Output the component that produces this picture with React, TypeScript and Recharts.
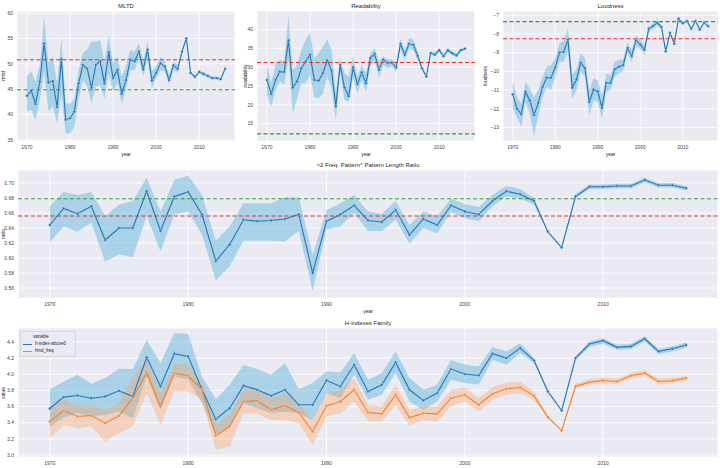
import React from 'react';
import { ComposedChart, Line, Area, XAxis, YAxis, CartesianGrid, ReferenceLine } from 'recharts';

const years = [
  1970, 1971, 1972, 1973, 1974, 1975, 1976, 1977, 1978, 1979,
  1980, 1981, 1982, 1983, 1984, 1985, 1986, 1987, 1988, 1989,
  1990, 1991, 1992, 1993, 1994, 1995, 1996, 1997, 1998, 1999,
  2000, 2001, 2002, 2003, 2004, 2005, 2006, 2007, 2008, 2009,
  2010, 2011, 2012, 2013, 2014, 2015, 2016,
];
const yearTicks = [1970, 1980, 1990, 2000, 2010];

// MLTD
const mltd = [
  43.7, 44.7, 42.1, 46.5, 54.0, 46.3, 46.6, 41.5, 50.9, 39.0,
  39.3, 40.6, 46.1, 49.8, 49.0, 45.3, 49.8, 50.5, 46.1, 52.3,
  47.2, 48.8, 44.1, 46.8, 50.8, 50.5, 52.4, 48.9, 52.8, 46.7,
  48.2, 50.1, 49.5, 46.8, 49.7, 49.0, 52.4, 55.0, 48.2, 47.4,
  48.4, 48.0, 47.6, 47.2, 47.2, 47.0, 49.0,
];
const mltdHi = [
  47.5, 48.5, 46.5, 49.8, 59.3, 50.1, 51.4, 46.2, 55.1, 42.2,
  42.2, 42.9, 48.8, 52.1, 52.8, 54.4, 54.4, 54.7, 50.1, 55.7,
  50.1, 51.4, 47.5, 49.5, 52.8, 52.4, 54.1, 50.5, 54.4, 48.5,
  49.5, 51.4, 50.5, 47.8, 50.5, 49.8, 52.8, 55.3, 48.5, 47.7,
  48.7, 48.3, 47.9, 47.5, 47.5, 47.3, 49.4,
];
const mltdLo = [
  40.6, 40.9, 38.9, 42.9, 48.5, 40.6, 41.6, 38.3, 44.0, 36.3,
  36.3, 37.6, 42.9, 46.8, 45.5, 42.2, 45.5, 45.9, 43.2, 48.2,
  44.5, 46.2, 42.2, 44.9, 48.8, 48.8, 50.8, 47.5, 51.1, 45.2,
  47.2, 48.8, 48.5, 45.9, 48.8, 48.2, 52.1, 54.7, 47.9, 47.1,
  48.1, 47.7, 47.3, 46.9, 46.9, 46.7, 48.6,
];

// Readability
const readability = [
  26.6, 22.9, 26.6, 28.8, 28.7, 37.1, 24.6, 26.2, 29.7, 31.5,
  33.3, 26.6, 26.4, 28.4, 31.8, 29.1, 19.6, 30.6, 24.6, 22.3,
  29.9, 25.5, 28.6, 25.7, 32.4, 33.5, 29.3, 32.0, 31.1, 31.2,
  29.9, 36.2, 33.3, 36.2, 35.9, 33.0, 29.7, 27.5, 33.7, 33.3,
  34.5, 32.9, 34.5, 33.7, 33.1, 34.5, 34.9,
];
const readHi = [
  30.6, 25.7, 30.6, 32.0, 31.5, 43.6, 29.3, 30.6, 34.6, 37.3,
  39.1, 32.4, 33.7, 35.5, 37.3, 34.6, 23.5, 32.4, 28.4, 27.5,
  32.9, 27.5, 30.6, 28.4, 33.7, 35.1, 31.5, 32.9, 32.1, 32.1,
  31.1, 37.5, 34.6, 37.8, 37.3, 34.2, 30.0, 27.8, 34.2, 33.8,
  35.0, 33.4, 35.0, 34.2, 33.6, 35.0, 35.3,
];
const readLo = [
  22.6, 19.5, 23.9, 26.2, 25.3, 32.0, 17.7, 21.7, 25.7, 25.7,
  27.9, 22.1, 21.7, 23.0, 27.5, 24.4, 15.9, 28.4, 21.3, 20.8,
  27.1, 23.0, 26.6, 23.5, 30.2, 31.8, 27.1, 30.6, 29.7, 30.2,
  28.8, 34.8, 31.8, 34.8, 34.5, 31.8, 29.4, 27.2, 33.2, 32.8,
  34.0, 32.4, 34.0, 33.2, 32.6, 34.0, 34.5,
];

// Loudness
const loudness = [
  -11.23, -12.0, -12.28, -11.1, -11.55, -12.33, -11.68, -10.83, -10.33, -10.34,
  -9.78, -8.99, -8.95, -8.3, -10.87, -10.43, -9.53, -9.84, -11.64, -10.98,
  -11.07, -11.95, -10.61, -10.61, -9.89, -9.75, -9.66, -8.75, -9.17, -8.34,
  -8.57, -8.84, -7.72, -7.58, -7.4, -7.63, -8.93, -7.94, -8.52, -7.18,
  -7.43, -7.31, -7.72, -7.31, -7.76, -7.4, -7.58,
];
const loudHi = [
  -10.56, -11.37, -11.73, -10.56, -10.92, -11.37, -11.0, -10.29, -9.75, -9.66,
  -9.29, -8.48, -8.39, -7.67, -10.2, -9.84, -9.02, -9.29, -11.0, -10.38,
  -10.47, -11.37, -10.11, -10.2, -9.48, -9.39, -9.35, -8.45, -8.84, -8.08,
  -8.3, -8.57, -7.58, -7.43, -7.25, -7.49, -8.88, -7.89, -8.47, -7.13,
  -7.38, -7.26, -7.67, -7.26, -7.71, -7.35, -7.53,
];
const loudLo = [
  -11.95, -12.46, -12.96, -11.64, -12.28, -13.45, -12.37, -11.37, -10.83, -11.0,
  -10.29, -9.48, -9.48, -8.93, -11.46, -11.0, -10.02, -10.29, -12.37, -11.55,
  -11.64, -12.55, -11.1, -11.0, -10.29, -10.11, -9.96, -9.02, -9.48, -8.63,
  -8.81, -9.11, -7.9, -7.72, -7.54, -7.76, -8.98, -7.99, -8.57, -7.23,
  -7.48, -7.36, -7.77, -7.36, -7.81, -7.45, -7.63,
];

// >2 Freq. Pattern^ Pattern Length Ratio
const ratio = [
  0.644, 0.666, 0.659, 0.669, 0.624, 0.640, 0.640, 0.689, 0.636, 0.682,
  0.688, 0.658, 0.596, 0.618, 0.651, 0.649, 0.650, 0.652, 0.658, 0.580,
  0.649, 0.658, 0.670, 0.650, 0.648, 0.664, 0.631, 0.652, 0.644, 0.670,
  0.662, 0.658, 0.676, 0.689, 0.685, 0.676, 0.635, 0.614, 0.682, 0.695,
  0.695, 0.696, 0.696, 0.704, 0.697, 0.697, 0.693,
];
const ratioHi = [
  0.669, 0.688, 0.684, 0.688, 0.656, 0.671, 0.676, 0.707, 0.662, 0.704,
  0.710, 0.684, 0.623, 0.642, 0.673, 0.673, 0.673, 0.681, 0.681, 0.604,
  0.664, 0.673, 0.684, 0.662, 0.659, 0.676, 0.644, 0.662, 0.656, 0.679,
  0.672, 0.668, 0.684, 0.696, 0.692, 0.680, 0.636, 0.615, 0.685, 0.698,
  0.698, 0.699, 0.699, 0.707, 0.700, 0.700, 0.696,
];
const ratioLo = [
  0.621, 0.642, 0.635, 0.647, 0.595, 0.605, 0.601, 0.656, 0.609, 0.658,
  0.662, 0.631, 0.570, 0.589, 0.623, 0.623, 0.623, 0.622, 0.636, 0.556,
  0.638, 0.642, 0.660, 0.636, 0.636, 0.651, 0.619, 0.640, 0.633, 0.661,
  0.653, 0.649, 0.669, 0.682, 0.679, 0.671, 0.634, 0.613, 0.680, 0.692,
  0.692, 0.693, 0.693, 0.701, 0.694, 0.694, 0.690,
];

// H-indexes family
const hAbove0 = [
  3.576, 3.717, 3.738, 3.704, 3.725, 3.795, 3.725, 4.21, 3.85, 4.255,
  4.222, 3.808, 3.444, 3.58, 3.858, 3.808, 3.733, 3.808, 3.622, 3.622,
  3.924, 3.85, 4.118, 3.787, 3.87, 4.147, 3.808, 3.676, 3.767, 4.065,
  4.003, 3.986, 4.255, 4.201, 4.325, 4.172, 3.787, 3.551, 4.201, 4.375,
  4.417, 4.334, 4.346, 4.441, 4.284, 4.317, 4.363,
];
const hAbove0Hi = [
  3.816, 3.911, 3.994, 3.882, 3.953, 4.069, 4.065, 4.429, 4.139, 4.512,
  4.499, 3.973, 3.692, 3.87, 4.118, 4.065, 3.994, 4.139, 3.816, 3.891,
  4.036, 4.023, 4.263, 3.932, 4.015, 4.284, 3.953, 3.808, 3.87, 4.181,
  4.118, 4.098, 4.338, 4.284, 4.388, 4.201, 3.797, 3.561, 4.222, 4.408,
  4.446, 4.367, 4.379, 4.47, 4.317, 4.346, 4.396,
];
const hAbove0Lo = [
  3.352, 3.468, 3.518, 3.477, 3.497, 3.539, 3.456, 3.973, 3.559, 3.973,
  3.932, 3.642, 3.249, 3.352, 3.642, 3.58, 3.518, 3.539, 3.518, 3.435,
  3.766, 3.704, 3.994, 3.684, 3.746, 4.015, 3.663, 3.559, 3.663, 3.932,
  3.891, 3.87, 4.181, 4.118, 4.263, 4.139, 3.777, 3.541, 4.172, 4.338,
  4.379, 4.305, 4.313, 4.408, 4.251, 4.284, 4.33,
];
const hindFreq = [
  3.415, 3.551, 3.477, 3.489, 3.394, 3.485, 3.704, 4.023, 3.601, 4.015,
  3.982, 3.808, 3.237, 3.353, 3.663, 3.671, 3.56, 3.613, 3.526, 3.29,
  3.609, 3.663, 3.808, 3.526, 3.51, 3.746, 3.464, 3.518, 3.51, 3.704,
  3.746, 3.622, 3.758, 3.82, 3.837, 3.733, 3.469, 3.303, 3.849, 3.903,
  3.924, 3.911, 3.982, 4.015, 3.911, 3.92, 3.953,
];
const hindFreqHi = [
  3.601, 3.684, 3.622, 3.622, 3.559, 3.642, 3.973, 4.181, 3.766, 4.139,
  4.118, 3.891, 3.373, 3.51, 3.808, 3.808, 3.704, 3.766, 3.642, 3.435,
  3.766, 3.808, 3.953, 3.622, 3.601, 3.87, 3.559, 3.601, 3.601, 3.808,
  3.841, 3.704, 3.841, 3.899, 3.911, 3.787, 3.479, 3.313, 3.882, 3.94,
  3.957, 3.944, 4.015, 4.048, 3.944, 3.953, 3.986,
];
const hindFreqLo = [
  3.207, 3.373, 3.332, 3.352, 3.166, 3.27, 3.352, 3.766, 3.373, 3.787,
  3.787, 3.684, 3.062, 3.104, 3.518, 3.51, 3.435, 3.435, 3.394, 3.125,
  3.477, 3.518, 3.663, 3.414, 3.414, 3.622, 3.361, 3.435, 3.414, 3.601,
  3.663, 3.539, 3.684, 3.746, 3.766, 3.684, 3.459, 3.293, 3.824, 3.87,
  3.891, 3.878, 3.949, 3.982, 3.878, 3.891, 3.92,
];

const BG = '#eaeaf2';
const BLUE = '#2176b5';
const ORANGE = '#f5822a';
const RED = '#e6302b';
const GREEN = '#2ca02c';
const FONT = '"Liberation Sans", Arial, sans-serif';
const XDOMAIN: [number, number] = [1967.7, 2018.3];

type Series = {
  key: string;
  color: string;
  values: number[];
  lo: number[];
  hi: number[];
  band: string;
  bandOpacity: number;
};

function Txt({ x, y, size, rotate, children }: any) {
  return (
    <div
      style={{
        position: 'absolute',
        left: x,
        top: y,
        transform: `translate(-50%, -50%)${rotate ? ' rotate(-90deg)' : ''}`,
        fontSize: size,
        color: '#262626',
        whiteSpace: 'nowrap',
        lineHeight: 1,
      }}
    >
      {children}
    </div>
  );
}

const minus = (v: number) => (v < 0 ? '\u2212' + Math.abs(v) : String(v));

function Panel({ x, y, w, h, title, titleY, xlabel, xlabelY, ylabel, ylabelX, domain, yTicks, fmt, series, refs }: any) {
  const YW = 30;
  const XH = 14;
  const data = years.map((yr, i) => {
    const row: any = { year: yr };
    series.forEach((s: Series) => {
      row[s.key] = s.values[i];
      row[s.key + '_ci'] = [s.lo[i], s.hi[i]];
    });
    return row;
  });
  return (
    <>
      <div style={{ position: 'absolute', left: x - YW, top: y }}>
        <ComposedChart width={w + YW} height={h + XH} data={data} margin={{ top: 0, right: 0, left: 0, bottom: 0 }}>
          <CartesianGrid fill={BG} fillOpacity={1} stroke="#ffffff" strokeWidth={0.8} />
          <XAxis
            type="number"
            dataKey="year"
            domain={XDOMAIN}
            ticks={yearTicks}
            interval={0}
            allowDataOverflow
            axisLine={false}
            tickLine={false}
            tickSize={2}
            tickMargin={2}
            height={XH}
            tick={{ fontSize: 5, fill: '#444', fontFamily: FONT }}
          />
          <YAxis
            type="number"
            domain={domain}
            ticks={yTicks}
            interval={0}
            allowDataOverflow
            axisLine={false}
            tickLine={false}
            tickSize={2}
            tickMargin={2}
            width={YW}
            tickFormatter={fmt}
            tick={{ fontSize: 5, fill: '#444', fontFamily: FONT }}
          />
          {series.map((s: Series) => (
            <Area
              key={s.key + '_ci'}
              type="linear"
              dataKey={s.key + '_ci'}
              stroke="none"
              fill={s.band}
              fillOpacity={s.bandOpacity}
              isAnimationActive={false}
              activeDot={false}
            />
          ))}
          {series.map((s: Series) => (
            <Line
              key={s.key}
              type="linear"
              dataKey={s.key}
              stroke={s.color}
              strokeWidth={1.1}
              dot={{ r: 1.4, fill: s.color, stroke: '#ffffff', strokeWidth: 0.3 }}
              activeDot={false}
              isAnimationActive={false}
            />
          ))}
          {refs.map((r: any, i: number) => (
            <ReferenceLine key={i} y={r.v} stroke={r.c} strokeDasharray="4 2.5" strokeWidth={1.1} />
          ))}
        </ComposedChart>
      </div>
      <Txt x={x + w / 2} y={titleY} size={6}>{title}</Txt>
      {xlabel && <Txt x={x + w / 2} y={xlabelY} size={5}>{xlabel}</Txt>}
      <Txt x={ylabelX} y={y + h / 2} size={5} rotate>{ylabel}</Txt>
    </>
  );
}

const blueBand = { band: '#5ab4dc', bandOpacity: 0.45 };
const orangeBand = { band: '#ff9b55', bandOpacity: 0.33 };

export default function App() {
  return (
    <div
      style={{
        position: 'absolute',
        left: 0,
        top: 0,
        width: 720,
        height: 468,
        background: '#ffffff',
        fontFamily: FONT,
        overflow: 'hidden',
      }}
    >
      <Panel
        x={17} y={11} w={218} h={130}
        title="MLTD" titleY={6}
        xlabel="year" xlabelY={154}
        ylabel="mltd" ylabelX={3}
        domain={[34.8, 60.4]} yTicks={[35, 40, 45, 50, 55, 60]}
        series={[{ key: 'mltd', color: BLUE, values: mltd, lo: mltdLo, hi: mltdHi, ...blueBand }]}
        refs={[{ v: 50.8, c: RED }, { v: 44.9, c: GREEN }]}
      />
      <Panel
        x={257} y={11} w={218} h={130}
        title="Readability" titleY={6}
        xlabel="year" xlabelY={154}
        ylabel="readability" ylabelX={245}
        domain={[10.4, 44.9]} yTicks={[15, 20, 25, 30, 35, 40]}
        series={[{ key: 'read', color: BLUE, values: readability, lo: readLo, hi: readHi, ...blueBand }]}
        refs={[{ v: 31.25, c: RED }, { v: 12.3, c: GREEN }]}
      />
      <Panel
        x={503} y={11} w={215} h={130}
        title="Loudness" titleY={6}
        xlabel="year" xlabelY={154}
        ylabel="loudness" ylabelX={485}
        domain={[-13.72, -6.77]} yTicks={[-13, -12, -11, -10, -9, -8, -7]}
        fmt={minus}
        series={[{ key: 'loud', color: BLUE, values: loudness, lo: loudLo, hi: loudHi, ...blueBand }]}
        refs={[{ v: -8.25, c: RED }, { v: -7.34, c: GREEN }]}
      />
      <Panel
        x={18} y={170} w={700} h={128}
        title=">2 Freq. Pattern^ Pattern Length Ratio" titleY={165}
        xlabel="year" xlabelY={311}
        ylabel="ratio" ylabelX={3}
        domain={[0.5467, 0.7173]} yTicks={[0.56, 0.58, 0.6, 0.62, 0.64, 0.66, 0.68, 0.7]}
        fmt={(v: number) => v.toFixed(2)}
        series={[{ key: 'ratio', color: BLUE, values: ratio, lo: ratioLo, hi: ratioHi, ...blueBand }]}
        refs={[{ v: 0.656, c: RED }, { v: 0.679, c: GREEN }]}
      />
      <Panel
        x={18} y={328} w={700} h={129}
        title="H-indexes Family" titleY={323}
        ylabel="value" ylabelX={3}
        domain={[2.975, 4.574]} yTicks={[3.0, 3.2, 3.4, 3.6, 3.8, 4.0, 4.2, 4.4]}
        fmt={(v: number) => v.toFixed(1)}
        series={[
          { key: 'h0', color: BLUE, values: hAbove0, lo: hAbove0Lo, hi: hAbove0Hi, ...blueBand },
          { key: 'hf', color: ORANGE, values: hindFreq, lo: hindFreqLo, hi: hindFreqHi, ...orangeBand },
        ]}
        refs={[]}
      />
      {/* legend box */}
      <div
        style={{
          position: 'absolute',
          left: 20,
          top: 331,
          width: 54,
          height: 24,
          background: 'rgba(234,234,242,0.8)',
          border: '0.5px solid #d8d8d8',
          borderRadius: 2,
          fontSize: 4.5,
          color: '#262626',
          lineHeight: 1,
        }}
      >
        <div style={{ position: 'absolute', left: 12, top: 3 }}>variable</div>
        {[
          { name: 'h-index-above0', color: BLUE, top: 10 },
          { name: 'hind_freq', color: ORANGE, top: 17 },
        ].map((e) => (
          <div key={e.name} style={{ position: 'absolute', left: 2, top: e.top, display: 'flex', alignItems: 'center' }}>
            <span style={{ display: 'inline-block', width: 9, height: 1.2, background: e.color, marginRight: 3 }} />
            <span>{e.name}</span>
          </div>
        ))}
      </div>
    </div>
  );
}
